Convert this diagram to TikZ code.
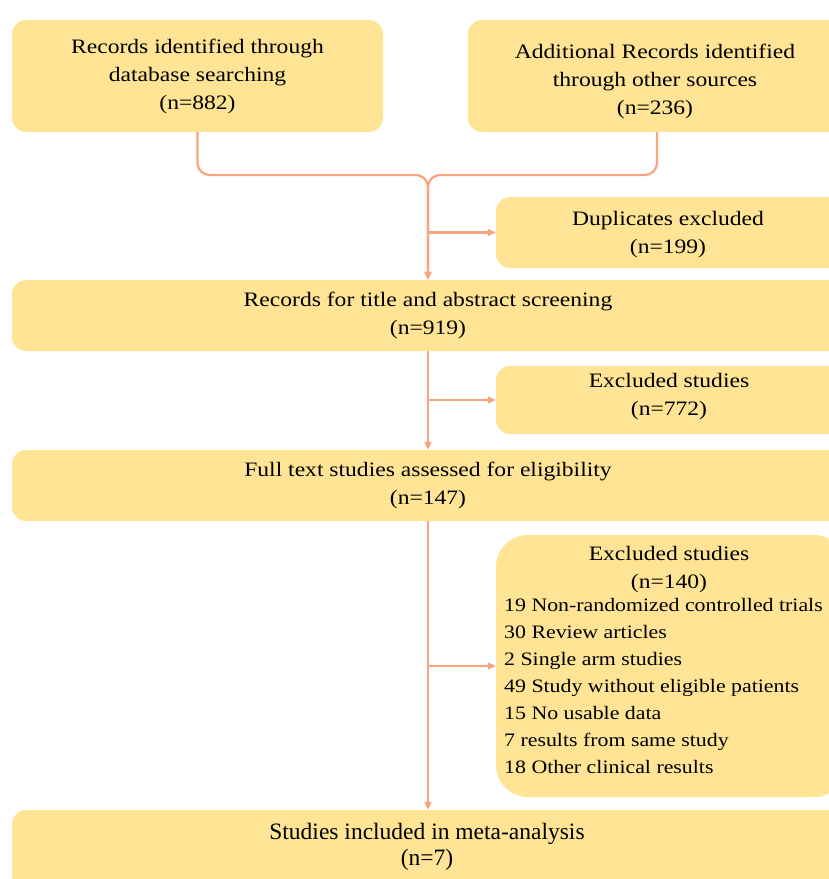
\documentclass[tikz,border=0pt]{standalone}
\usepackage{fontspec}
\setmainfont{Liberation Serif}
\newfontfamily\widefont[FakeStretch=1.15]{Liberation Serif}
\usetikzlibrary{arrows.meta}
\definecolor{boxfill}{HTML}{FEE494}
\definecolor{linec}{HTML}{F8A47E}
\begin{document}
\begin{tikzpicture}[x=1pt,y=-1pt,
  box/.style={fill=boxfill, draw=none, rounded corners=14pt, align=center,
    font=\widefont\fontsize{20.5}{28}\selectfont, inner sep=0pt},
  txt/.style={align=center, font=\widefont\fontsize{20.5}{28}\selectfont, inner sep=0pt},
  conn/.style={draw=linec, line width=2.2pt},
  arr/.style={conn, -{Triangle[length=8pt,width=7pt]}}]
\useasboundingbox (0,0) rectangle (829,879);
\clip (0,0) rectangle (829,879);
\fill[white] (0,0) rectangle (829,879);

\node[box, minimum width=371pt, minimum height=112pt] (A) at (197.5,76)
  {Records identified through\\database searching\\(n=882)};
\node[box, minimum width=378pt, minimum height=112pt] (B) at (657,76) {};
\node[txt] (Bt) at (655,81) {Additional Records identified\\through other sources\\(n=236)};
\node[box, minimum width=350pt, minimum height=71pt] (D) at (671,232.5) {};
\node[txt] (Dt) at (668,235) {Duplicates excluded\\(n=199)};
\node[box, minimum width=832pt, minimum height=71pt] (C) at (428,315.5)
  {Records for title and abstract screening\\(n=919)};
\node[box, minimum width=350pt, minimum height=68pt] (G) at (671,400) {};
\node[txt] (Gt) at (669,397) {Excluded studies\\(n=772)};
\node[box, minimum width=832pt, minimum height=71pt] (E) at (428,485.5)
  {Full text studies assessed for eligibility\\(n=147)};
\node[box, minimum width=350pt, minimum height=262pt, rounded corners=32pt] (H) at (671,666) {};
\node[txt] (Ht) at (669,570) {Excluded studies\\(n=140)};
\node[txt, align=left, anchor=north west, font=\widefont\fontsize{19}{27}\selectfont] (Hl) at (504,598)
  {19 Non-randomized controlled trials\\30 Review articles\\2 Single arm studies\\
   49 Study without eligible patients\\15 No usable data\\7 results from same study\\
   18 Other clinical results};
\node[box, minimum width=832pt, minimum height=80pt] (F) at (428,850) {};
\node[txt, font=\fontsize{23.5}{26}\selectfont] (Ft) at (427,847) {Studies included in meta-analysis\\(n=7)};

\coordinate (J) at (428,175);
\draw[arr, rounded corners=12pt] (A.south) |- (J) -- (C.north);
\draw[arr, rounded corners=12pt] (B.south) |- (J) -- (C.north);
\draw[arr] (D.west -| C.north) -- (D.west);
\draw[arr] (C.south) -- (E.north);
\draw[arr] (G.west -| C.north) -- (G.west);
\draw[arr] (E.south) -- (F.north);
\draw[arr] (H.west -| C.north) -- (H.west);
\end{tikzpicture}
\end{document}
